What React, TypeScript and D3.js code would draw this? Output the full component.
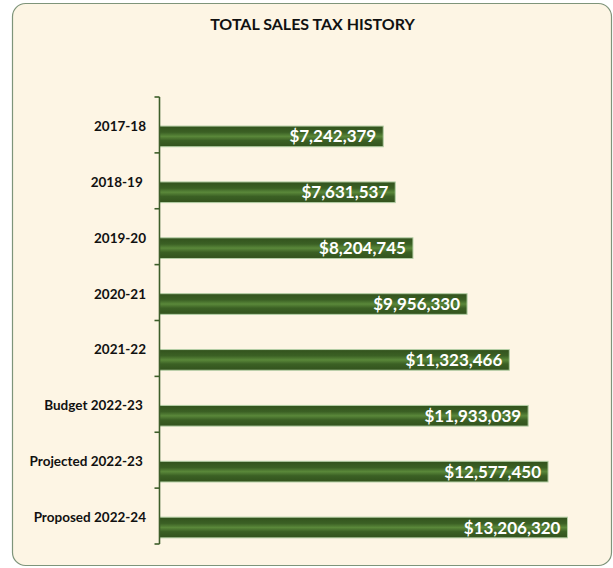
import React from "react";
import { scaleBand, scaleLinear, format } from "d3";

const categories = [
  "2017-18",
  "2018-19 ",
  "2019-20",
  "2020-21",
  "2021-22",
  "Budget 2022-23 ",
  "Projected 2022-23 ",
  "Proposed 2022-24",
];
const salesTax = [7242379, 7631537, 8204745, 9956330, 11323466, 11933039, 12577450, 13206320];
const xDomainMax = 14000000;

const W = 613;
const H = 568;
const axisX = 159.5;
const axisTop = 97;
const axisBottom = 544;

function App() {
  const y = scaleBand<string>().domain(categories).range([axisTop, axisBottom]);
  const x = scaleLinear().domain([0, xDomainMax]).range([axisX, axisX + 432.5]);
  const fmt = format("$,");
  const bw = y.bandwidth();
  const barOff = bw * 0.52;
  const barH = bw * 0.37;
  const ticks = [...categories.map((c) => y(c) as number), axisBottom];

  return (
    <svg
      width={W}
      height={H}
      style={{ position: "absolute", left: 0, top: 0, display: "block" }}
      fontFamily="Lato, 'Open Sans', sans-serif"
    >
      <defs>
        <linearGradient id="barGrad" x1="0" y1="0" x2="0" y2="1">
          <stop offset="0" stopColor="#32521d" />
          <stop offset="0.3" stopColor="#3b6024" />
          <stop offset="0.5" stopColor="#5a883a" />
          <stop offset="0.7" stopColor="#3b6024" />
          <stop offset="1" stopColor="#32521d" />
        </linearGradient>
      </defs>
      <rect x={12.5} y={3.5} width={599} height={562} rx={13} fill="#fdf5e4" stroke="#7e947a" strokeWidth={1.2} />
      <text x={312.5} y={30} textAnchor="middle" fontSize={16} fontWeight="bold" fill="#111">
        TOTAL SALES TAX HISTORY
      </text>

      {categories.map((c, i) => {
        const top = (y(c) as number) + barOff;
        const x1 = x(salesTax[i]);
        return (
          <g key={c}>
            <rect
              x={axisX}
              y={top}
              width={x1 - axisX}
              height={barH}
              fill="url(#barGrad)"
              stroke="#b5cfa6"
              strokeWidth={1}
            />
            <text
              x={x1 - 7}
              y={top + barH / 2 + 6}
              textAnchor="end"
              fontSize={17}
              fontWeight="bold"
              fill="#fff"
            >
              {fmt(salesTax[i])}
            </text>
            <text
              x={146}
              y={(y(c) as number) + bw / 2 + 6}
              textAnchor="end"
              fontSize={13.5}
              fontWeight="bold"
              fill="#111"
              style={{ whiteSpace: "pre" }}
            >
              {c}
            </text>
          </g>
        );
      })}

      <line x1={axisX} x2={axisX} y1={axisTop} y2={axisBottom} stroke="#3d5e2a" strokeWidth={1.6} />
      {ticks.map((t, i) => (
        <line key={i} x1={axisX - 5} x2={axisX} y1={t} y2={t} stroke="#3d5e2a" strokeWidth={1.6} />
      ))}
    </svg>
  );
}

export default App;
